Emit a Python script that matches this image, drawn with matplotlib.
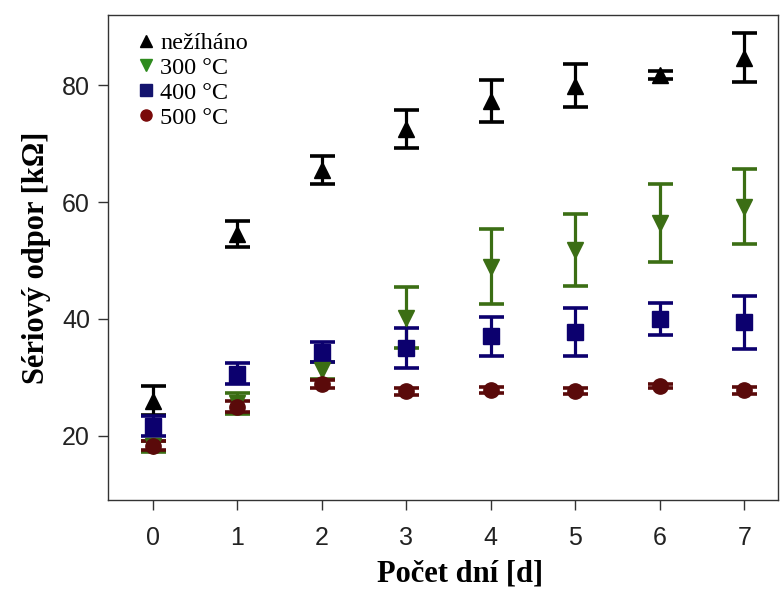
import matplotlib.pyplot as plt
from matplotlib.lines import Line2D

DAYS = [0, 1, 2, 3, 4, 5, 6, 7]

# series: mean value and symmetric error (kOhm)
NEZIHANO = [26.0, 54.5, 65.5, 72.5, 77.3, 79.9, 81.8, 84.7]
NEZIHANO_ERR = [2.5, 2.2, 2.4, 3.3, 3.6, 3.7, 0.7, 4.2]
T300 = [18.2, 25.6, 31.2, 40.2, 48.9, 51.8, 56.4, 59.2]
T300_ERR = [0.9, 1.8, 1.5, 5.2, 6.4, 6.2, 6.7, 6.4]
T400 = [21.7, 30.6, 34.4, 35.0, 37.0, 37.7, 40.0, 39.4]
T400_ERR = [1.7, 1.8, 1.7, 3.4, 3.3, 4.1, 2.8, 4.6]
T500 = [18.3, 25.0, 28.9, 27.6, 27.8, 27.7, 28.5, 27.8]
T500_ERR = [0.8, 0.9, 0.7, 0.6, 0.5, 0.5, 0.4, 0.6]

LABELS = ["nežíháno", "300 °C", "400 °C", "500 °C"]
COLORS = ["#000000", "#3b6e14", "#0c006e", "#5a0a0a"]
LEG_COLORS = ["#000000", "#2e8b1e", "#14146e", "#7a0a0a"]
MARKERS = ["^", "v", "s", "o"]

fig = plt.figure(figsize=(7.8, 5.89), dpi=100)
ax = fig.add_axes([0.1385, 0.151, 0.859, 0.8235])

series = [(NEZIHANO, NEZIHANO_ERR), (T300, T300_ERR),
          (T400, T400_ERR), (T500, T500_ERR)]
for (vals, errs), c, m in zip(series, COLORS, MARKERS):
    ax.errorbar(DAYS, vals, yerr=errs, fmt=m, color=c, ms=11, mec=c,
                elinewidth=2.3, capsize=9, capthick=2.6, ls="none")

ax.set_xlim(-0.53, 7.4)
ax.set_ylim(9, 92)
ax.set_xticks(DAYS)
ax.set_yticks([20, 40, 60, 80])
ax.tick_params(direction="out", length=7, width=1, colors="#333333",
               labelcolor="#222222", labelsize=18, pad=6)
ax.tick_params(axis="x", pad=12)
for lab in ax.get_xticklabels() + ax.get_yticklabels():
    lab.set_fontfamily("Liberation Sans")
for s in ax.spines.values():
    s.set_color("#333333")
    s.set_linewidth(1)

serif = {"family": "Liberation Serif", "weight": "bold", "size": 22}
ax.set_xlabel("Počet dní [d]", fontdict=serif)
ax.xaxis.set_label_coords(0.525, -0.122)
ax.set_ylabel("Sériový odpor [kΩ]", fontdict=serif, labelpad=8)

handles = [Line2D([], [], marker=m, color=c, ls="none", ms=8)
           for m, c in zip(MARKERS, LEG_COLORS)]
ax.legend(handles, LABELS, loc="upper left", frameon=False,
          prop={"family": "Liberation Serif", "size": 17.5},
          handletextpad=0.0, labelspacing=0.12, handlelength=1.2,
          borderaxespad=0.0, bbox_to_anchor=(0.02, 0.985))

fig.savefig("out.png", dpi=100)
